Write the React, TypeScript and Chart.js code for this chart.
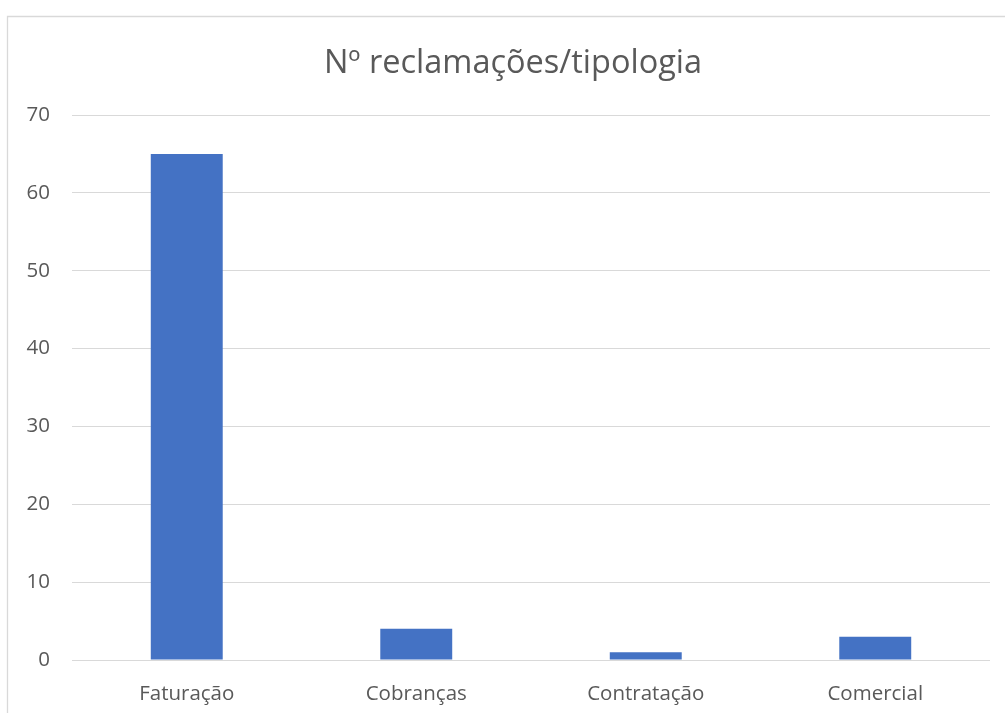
import React, { useEffect, useRef } from "react";
import { Chart, registerables } from "chart.js";

Chart.register(...registerables);

const categories = ["Faturação", "Cobranças", "Contratação", "Comercial"];
const values = [65, 4, 1, 3];
const chartTitle = "Nº reclamações/tipologia";
const yMax = 70;
const yStep = 10;

const FONT = "'Open Sans', 'DejaVu Sans', sans-serif";

const decorPlugin = {
  id: "decor",
  beforeDraw(chart: any) {
    const ctx = chart.ctx;
    ctx.save();
    ctx.fillStyle = "#ffffff";
    ctx.fillRect(0, 0, chart.width, chart.height);
    ctx.strokeStyle = "#d9d9d9";
    ctx.lineWidth = 1.3;
    ctx.beginPath();
    ctx.moveTo(7.5, chart.height + 5);
    ctx.lineTo(7.5, 16.5);
    ctx.lineTo(chart.width + 5, 16.5);
    ctx.stroke();
    ctx.fillStyle = "#595959";
    ctx.font = `32.5px ${FONT}`;
    ctx.textAlign = "center";
    ctx.textBaseline = "alphabetic";
    ctx.fillText(chartTitle, 513, 73);
    ctx.restore();
  },
};

export default function App() {
  const ref = useRef<HTMLCanvasElement | null>(null);
  useEffect(() => {
    if (!ref.current) return;
    const chart = new Chart(ref.current, {
      type: "bar",
      data: {
        labels: categories,
        datasets: [
          {
            data: values,
            backgroundColor: "#4472c4",
            borderWidth: 0,
            barPercentage: 1 / 3.19,
            categoryPercentage: 1,
          },
        ],
      },
      options: {
        animation: false,
        responsive: false,
        devicePixelRatio: 1,
        layout: { padding: { top: 115, right: 15, left: 0, bottom: 0 } },
        plugins: {
          legend: { display: false },
          title: { display: false },
          tooltip: { enabled: false },
        },
        scales: {
          x: {
            grid: { display: false },
            border: { display: false },
            ticks: {
              color: "#595959",
              font: { family: FONT, size: 20.5 },
              padding: 14,
              maxRotation: 0,
            },
            afterFit: (s: any) => {
              s.height = 53;
            },
          },
          y: {
            min: 0,
            max: yMax,
            grid: { color: "#d9d9d9", lineWidth: 1, drawTicks: false },
            border: { display: false },
            ticks: {
              stepSize: yStep,
              color: "#595959",
              font: { family: FONT, size: 20.5 },
              padding: 22,
            },
            afterFit: (s: any) => {
              s.width = 72;
            },
          },
        },
      },
      plugins: [decorPlugin],
    });
    return () => chart.destroy();
  }, []);
  return (
    <div style={{ position: "fixed", left: 0, top: 0, width: 1005, height: 713, background: "#fff" }}>
      <canvas ref={ref} width={1005} height={713} style={{ display: "block" }} />
    </div>
  );
}
